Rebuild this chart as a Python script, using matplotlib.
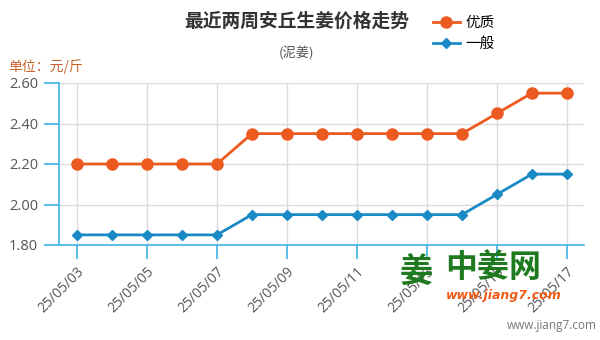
import matplotlib
matplotlib.use("Agg")
import matplotlib.pyplot as plt

plt.rcParams['font.family'] = ['Noto Sans CJK SC', 'DejaVu Sans']

dates = ["25/05/03", "25/05/04", "25/05/05", "25/05/06", "25/05/07", "25/05/08",
         "25/05/09", "25/05/10", "25/05/11", "25/05/12", "25/05/13", "25/05/14",
         "25/05/15", "25/05/16", "25/05/17"]
premium = [2.20, 2.20, 2.20, 2.20, 2.20, 2.35, 2.35, 2.35, 2.35, 2.35, 2.35, 2.35,
           2.45, 2.55, 2.55]
regular = [1.85, 1.85, 1.85, 1.85, 1.85, 1.95, 1.95, 1.95, 1.95, 1.95, 1.95, 1.95,
           2.05, 2.15, 2.15]
y_ticks = [1.80, 2.00, 2.20, 2.40, 2.60]

ORANGE = "#ec5a20"
BLUE = "#1a8ac6"
AXIS = "#3cb4e6"
GRID = "#dcdcdc"
TEXT = "#555555"

fig = plt.figure(figsize=(6, 3.4), dpi=100)
ax = fig.add_axes([59 / 600, 1 - 245 / 340, 525 / 600, 162 / 340])

x = list(range(len(dates)))
ax.plot(x, premium, color=ORANGE, lw=2, marker="o", ms=8, label="优质", zorder=3)
ax.plot(x, regular, color=BLUE, lw=2, marker="D", ms=5.5, label="一般", zorder=3)

ax.set_xlim(-0.514, len(dates) - 1 + 0.486)
ax.set_ylim(1.80, 2.60)
ax.set_yticks(y_ticks)
ax.set_yticklabels([f"{v:.2f}" for v in y_ticks], fontsize=10.5, color=TEXT,
                   family=['Open Sans', 'DejaVu Sans'])
ax.set_xticks(x[::2])
ax.set_xticklabels(dates[::2], rotation=45, ha="right", rotation_mode="anchor",
                   fontsize=10, color=TEXT, family=['Open Sans', 'DejaVu Sans'])

ax.grid(True, color=GRID, lw=1)
ax.set_axisbelow(True)
for side in ("top", "right"):
    ax.spines[side].set_visible(False)
for side in ("left", "bottom"):
    ax.spines[side].set_color(AXIS)
    ax.spines[side].set_linewidth(1.2)
ax.tick_params(axis="y", length=11, color=AXIS, width=1.2, pad=4)
ax.tick_params(axis="x", length=10, color=AXIS, width=1.2, pad=4)

fig.text(297 / 600, 1 - 21 / 340, "最近两周安丘生姜价格走势", ha="center", va="center",
         fontsize=13.5, fontweight="bold", color="#333333")
fig.text(297 / 600, 1 - 54 / 340, "(泥姜)", ha="center", va="center",
         fontsize=9.5, color=TEXT)
fig.text(8 / 600, 1 - 67 / 340, "单位：元/斤", ha="left", va="center",
         fontsize=10, color="#c8642a")

leg = fig.legend(loc="upper left", bbox_to_anchor=(426 / 600, 1 - 9 / 340),
                 frameon=False, fontsize=10.5, handlelength=1.8, handletextpad=0.4,
                 labelspacing=0.45, borderpad=0)

# site mark
fig.text(400 / 600, 1 - 272 / 340, "姜", ha="left", va="center", fontsize=24,
         fontweight="bold", color="#1f7a1f")
fig.text(445 / 600, 1 - 268 / 340, "中姜网", ha="left", va="center", fontsize=23,
         fontweight="bold", color="#1f7a1f")
fig.text(446 / 600, 1 - 295 / 340, "www.jiang7.com", ha="left", va="center",
         fontsize=9, fontweight="bold", style="italic", color="#f05a14",
         family=['DejaVu Sans'])
fig.text(597 / 600, 1 - 326 / 340, "www.jiang7.com", ha="right", va="center",
         fontsize=8.5, color="#777777", family=['Open Sans', 'DejaVu Sans'])

fig.savefig("out.png", dpi=100)
